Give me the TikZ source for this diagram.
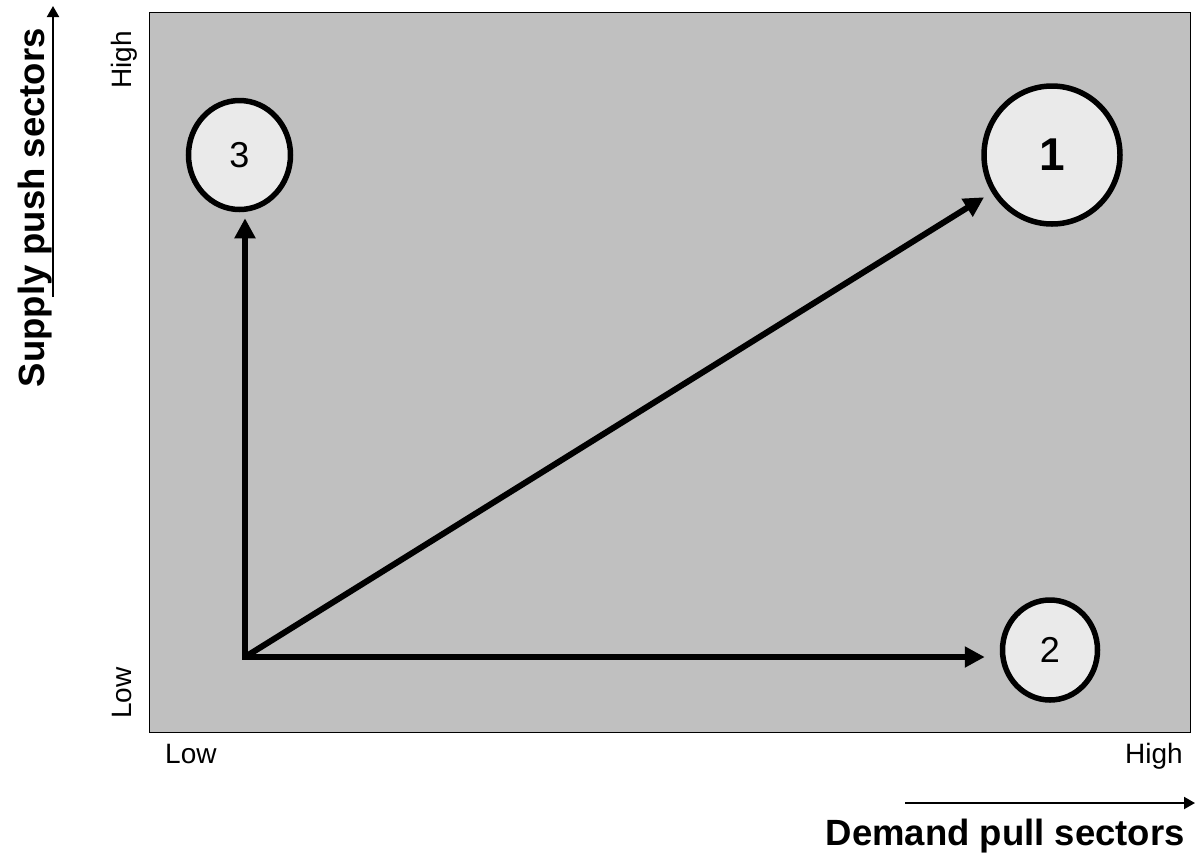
\documentclass[tikz,border=0pt]{standalone}
\usepackage{fontspec}
\setmainfont{Liberation Sans}
\usetikzlibrary{arrows.meta,shapes.geometric}

\definecolor{panel}{HTML}{C0C0C0}
\definecolor{bubble}{HTML}{EAEAEA}

\tikzset{
  axistitle/.style={inner sep=0pt, font=\fontsize{36.5}{40}\selectfont\bfseries},
  ticklabel/.style={inner sep=0pt, font=\fontsize{28}{32}\selectfont},
  bubblenode/.style={ellipse, draw=black, line width=5.5pt, fill=bubble, inner sep=0pt},
  axisarrow/.style={line width=2pt, -{Triangle[length=11pt,width=12pt]}},
  patharrow/.style={line width=6pt, -{Triangle[length=20pt,width=20pt]}},
}

\begin{document}
\begin{tikzpicture}[x=1pt,y=-1pt]
\useasboundingbox (0,0) rectangle (1195,855);
\fill[white] (0,0) rectangle (1195,855);

% plotting area
\draw[fill=panel, draw=black, line width=1pt] (149,12) rectangle (1190,732);

% axis titles with their direction arrows
\node[axistitle, rotate=90, anchor=base east] (ytitle) at (44,28) {Supply push sectors};
\node[axistitle, anchor=base east] (xtitle) at (1185,845) {Demand pull sectors};
\coordinate (ya0) at (53,297);
\coordinate (ya1) at (53,6);
\coordinate (xa0) at (905,803);
\coordinate (xa1) at (1195,803);
\draw[axisarrow] (ya0) -- (ya1);
\draw[axisarrow] (xa0) -- (xa1);

% low / high marks
\node[ticklabel, rotate=90, anchor=base east] (yhigh) at (131,31) {High};
\node[ticklabel, rotate=90, anchor=base west] (ylow) at (131,719) {Low};
\node[ticklabel, anchor=base west] (xlow) at (165,763) {Low};
\node[ticklabel, anchor=base east] (xhigh) at (1183,763) {High};

% positions
\node[bubblenode, minimum width=136pt, minimum height=138pt,
      font=\fontsize{46}{50}\selectfont\bfseries] (n1) at (1052,155) {1};
\node[bubblenode, minimum width=95pt, minimum height=100pt,
      font=\fontsize{36}{40}\selectfont] (n2) at (1050,650) {2};
\node[bubblenode, minimum width=102pt, minimum height=109pt,
      font=\fontsize{36}{40}\selectfont] (n3) at (239.5,155) {3};

% development paths from the low/low corner
\coordinate (o) at (245,657);
\draw[patharrow, line cap=rect, shorten >=6pt] (o) -- (o |- n3.south);
\draw[patharrow, line cap=rect, shorten >=15pt] (o) -- (o -| n2.west);
\draw[patharrow, shorten >=9pt] (o) -- (n1);
\end{tikzpicture}
\end{document}
